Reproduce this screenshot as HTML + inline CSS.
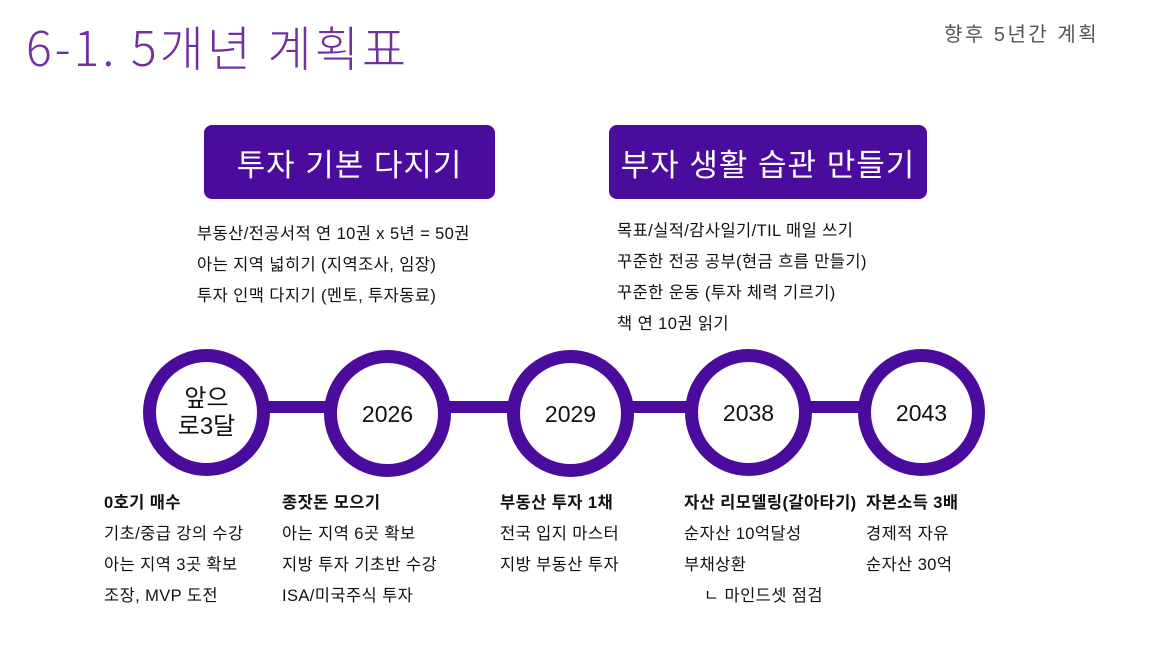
<!DOCTYPE html>
<html><head><meta charset="utf-8"><style>
body{margin:0;width:1158px;height:649px;background:#fff;position:relative;overflow:hidden;font-family:"Liberation Sans","Noto Sans CJK KR",sans-serif;}
.a{position:absolute;white-space:nowrap;}
.t{font-size:16.5px;color:#111;line-height:31px;letter-spacing:0.4px;}
.box{position:absolute;background:#4B0C9E;border-radius:8px;color:#fff;font-size:31px;letter-spacing:1px;display:flex;align-items:center;justify-content:center;top:125px;height:74px;}
.c{position:absolute;width:101px;height:101px;border:13px solid #4B0C9E;border-radius:50%;background:#fff;display:flex;align-items:center;justify-content:center;font-size:23px;color:#111;text-align:center;line-height:28px;}
.bar{position:absolute;background:#4B0C9E;height:12px;top:401px;}
b{font-weight:bold}
</style></head><body>
<div class="a" style="left:26px;top:14px;font-size:48px;letter-spacing:3px;color:#7030A0;font-family:'Noto Sans CJK KR',sans-serif;font-weight:300;line-height:62px;">6-1. 5개년 계획표</div>
<div class="a" style="left:944px;top:18px;font-size:20px;letter-spacing:2.5px;color:#555;">향후 5년간 계획</div>
<div class="box" style="left:204px;width:291px;">투자 기본 다지기</div>
<div class="box" style="left:609px;width:318px;">부자 생활 습관 만들기</div>
<div class="a t" style="left:197px;top:219px;">부동산/전공서적 연 10권 x 5년 = 50권<br>아는 지역 넓히기 (지역조사, 임장)<br>투자 인맥 다지기 (멘토, 투자동료)</div>
<div class="a t" style="left:617px;top:216px;">목표/실적/감사일기/TIL 매일 쓰기<br>꾸준한 전공 공부(현금 흐름 만들기)<br>꾸준한 운동 (투자 체력 기르기)<br>책 연 10권 읽기</div>
<div class="bar" style="left:250px;width:680px;"></div>
<div class="c" style="left:143px;top:349px;font-size:24px;">앞으<br>로3달</div>
<div class="c" style="left:324px;top:350px;">2026</div>
<div class="c" style="left:507px;top:350px;">2029</div>
<div class="c" style="left:685px;top:349px;">2038</div>
<div class="c" style="left:858px;top:349px;">2043</div>
<div class="a t" style="left:104px;top:488px;"><b>0호기 매수</b><br>기초/중급 강의 수강<br>아는 지역 3곳 확보<br>조장, MVP 도전</div>
<div class="a t" style="left:282px;top:488px;"><b>종잣돈 모으기</b><br>아는 지역 6곳 확보<br>지방 투자 기초반 수강<br>ISA/미국주식 투자</div>
<div class="a t" style="left:500px;top:488px;"><b>부동산 투자 1채</b><br>전국 입지 마스터<br>지방 부동산 투자</div>
<div class="a t" style="left:684px;top:488px;"><b>자산 리모델링(갈아타기)</b><br>순자산 10억달성<br>부채상환<br>&nbsp;&nbsp;&nbsp;&nbsp;ㄴ 마인드셋 점검</div>
<div class="a t" style="left:866px;top:488px;background:#fff;"><b>자본소득 3배</b><br>경제적 자유<br>순자산 30억</div>
</body></html>
